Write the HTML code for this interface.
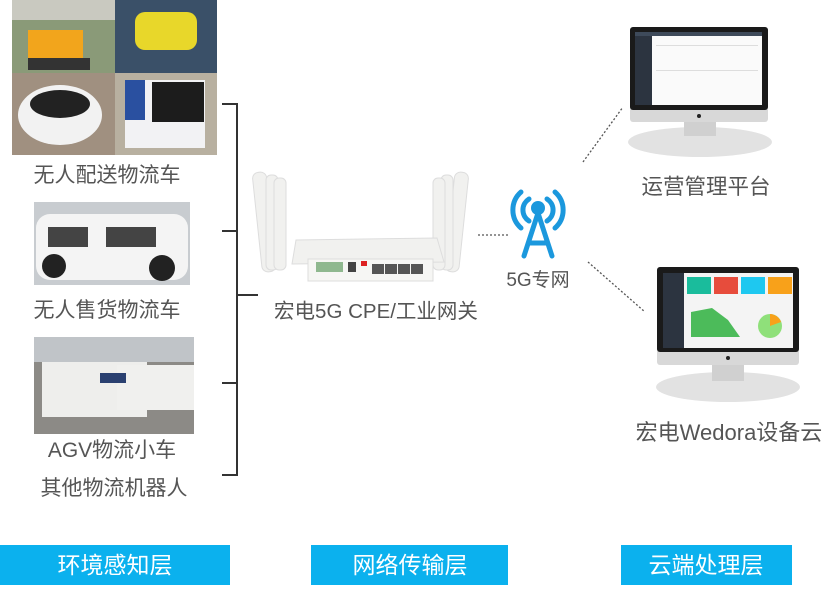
<!DOCTYPE html>
<html><head><meta charset="utf-8"><style>
body{margin:0;width:827px;height:585px;overflow:hidden;background:#fff;font-family:"Liberation Sans","Noto Sans CJK SC",sans-serif}
</style></head><body>
<svg width="827" height="585" viewBox="0 0 827 585" xmlns="http://www.w3.org/2000/svg" font-family="Liberation Sans, Noto Sans CJK SC, sans-serif">
<!-- photo grid -->
<rect x="12" y="0" width="103" height="73" fill="#8a9a78"/>
<rect x="12" y="0" width="103" height="20" fill="#c9c9c0"/>
<rect x="28" y="30" width="55" height="30" fill="#f2a51c"/>
<rect x="28" y="58" width="62" height="12" fill="#333"/>
<rect x="115" y="0" width="102" height="73" fill="#3a5068"/>
<rect x="135" y="12" width="62" height="38" rx="10" fill="#e8d72a"/>
<rect x="12" y="73" width="103" height="82" fill="#a09080"/>
<ellipse cx="60" cy="115" rx="42" ry="30" fill="#f2f2f2"/>
<ellipse cx="60" cy="104" rx="30" ry="14" fill="#222"/>
<rect x="115" y="73" width="102" height="82" fill="#b8b0a0"/>
<rect x="125" y="80" width="80" height="68" fill="#f2f2f4"/>
<rect x="152" y="82" width="52" height="40" fill="#1c1c1c"/>
<rect x="125" y="80" width="20" height="40" fill="#2a50a0"/>
<text x="107" y="182" font-size="21" fill="#555" text-anchor="middle">无人配送物流车</text>
<rect x="34" y="202" width="156" height="83" fill="#c8ccd0"/>
<rect x="36" y="214" width="152" height="66" rx="14" fill="#f4f4f4"/>
<rect x="48" y="227" width="40" height="20" fill="#444"/>
<rect x="106" y="227" width="50" height="20" fill="#444"/>
<circle cx="54" cy="266" r="12" fill="#222"/><circle cx="162" cy="268" r="13" fill="#222"/>
<text x="107" y="317" font-size="21" fill="#555" text-anchor="middle">无人售货物流车</text>
<rect x="34" y="337" width="160" height="97" fill="#8c8a86"/>
<rect x="34" y="337" width="160" height="25" fill="#c0c4c8"/>
<rect x="42" y="362" width="105" height="55" fill="#eeeeec"/>
<rect x="117" y="365" width="77" height="45" fill="#f0f0ee"/>
<rect x="100" y="373" width="26" height="10" fill="#2a4070"/>
<text x="112" y="457" font-size="21" fill="#555" text-anchor="middle">AGV物流小车</text>
<text x="114" y="495" font-size="21" fill="#555" text-anchor="middle">其他物流机器人</text>
<!-- bracket -->
<g stroke="#333" stroke-width="2" fill="none">
<path d="M222 104H237V475H222"/><path d="M222 231H237M222 383H237M237 295H258"/>
</g>
<!-- router -->
<g fill="#f1f1ef" stroke="#ddd" stroke-width="1">
<rect x="257" y="172" width="14" height="100" rx="6" transform="rotate(-6 264 220)"/>
<rect x="266" y="175" width="12" height="95" rx="5"/>
<rect x="274" y="178" width="12" height="92" rx="5"/>
<rect x="450" y="172" width="14" height="100" rx="6" transform="rotate(6 457 220)"/>
<rect x="441" y="175" width="12" height="95" rx="5"/>
<rect x="433" y="178" width="12" height="92" rx="5"/>
<path d="M296 240 L437 238 L444 262 L292 264 Z"/>
<rect x="308" y="259" width="125" height="22" fill="#f6f6f4"/>
</g>
<rect x="316" y="262" width="27" height="10" fill="#8fb88f"/>
<rect x="348" y="262" width="8" height="10" fill="#444"/>
<rect x="361" y="261" width="6" height="5" fill="#d22"/>
<g fill="#555"><rect x="372" y="264" width="12" height="10"/><rect x="385" y="264" width="12" height="10"/><rect x="398" y="264" width="12" height="10"/><rect x="411" y="264" width="12" height="10"/></g>
<text x="376" y="318" font-size="20.5" fill="#555" text-anchor="middle">宏电5G CPE/工业网关</text>
<!-- dotted lines -->
<g stroke="#555" stroke-width="1.3" stroke-dasharray="2 2" fill="none">
<path d="M478 235H510"/><path d="M583 162L623 107"/><path d="M588 262L645 312"/>
</g>
<!-- tower -->
<g stroke="#1b98dd" stroke-width="5" fill="none" stroke-linecap="round">
<path d="M529 199 A13 13 0 0 0 529 221"/><path d="M547 199 A13 13 0 0 1 547 221"/>
<path d="M521 192 A24 24 0 0 0 521 228"/><path d="M555 192 A24 24 0 0 1 555 228"/>
<path d="M538 213 L524 256 M538 213 L552 256 M529 243 H547"/>
</g>
<circle cx="538" cy="208" r="7" fill="#1b98dd"/>
<text x="538" y="286" font-size="19" fill="#555" text-anchor="middle">5G专网</text>
<!-- monitor 1 -->
<ellipse cx="700" cy="142" rx="72" ry="15" fill="#e2e2e2"/>
<rect x="684" y="120" width="32" height="16" fill="#d0d0d0"/>
<rect x="630" y="27" width="138" height="95" rx="3" fill="#d8d8d8"/>
<rect x="630" y="27" width="138" height="83" rx="3" fill="#1a1a1a"/>
<rect x="635" y="32" width="127" height="73" fill="#fafafa"/>
<rect x="635" y="32" width="17" height="73" fill="#2c3440"/>
<rect x="635" y="32" width="127" height="4" fill="#3e4a5a"/>
<g fill="#ddd"><rect x="656" y="45" width="102" height="1"/><rect x="656" y="70" width="102" height="1"/></g>
<circle cx="699" cy="116" r="2" fill="#222"/>
<text x="706" y="194" font-size="21.5" fill="#555" text-anchor="middle">运营管理平台</text>
<!-- monitor 2 -->
<ellipse cx="728" cy="387" rx="72" ry="15" fill="#e2e2e2"/>
<rect x="712" y="364" width="32" height="17" fill="#d0d0d0"/>
<rect x="657" y="267" width="142" height="98" rx="3" fill="#d8d8d8"/>
<rect x="657" y="267" width="142" height="85" rx="3" fill="#1a1a1a"/>
<rect x="663" y="273" width="130" height="75" fill="#f4f4f4"/>
<rect x="663" y="273" width="21" height="75" fill="#2c3440"/>
<rect x="687" y="277" width="24" height="17" fill="#1abc9c"/>
<rect x="714" y="277" width="24" height="17" fill="#e74c3c"/>
<rect x="741" y="277" width="24" height="17" fill="#1ec8f0"/>
<rect x="768" y="277" width="24" height="17" fill="#f8a11a"/>
<path d="M691 337 L691 312 L712 308 L728 320 L740 337 Z" fill="#4cbb5a"/>
<circle cx="770" cy="326" r="12" fill="#8fe07a"/>
<path d="M770 326 L770 314 A12 12 0 0 1 781 322 Z" fill="#f8a11a"/>
<circle cx="728" cy="358" r="2" fill="#222"/>
<text x="729" y="440" font-size="22" fill="#555" text-anchor="middle">宏电Wedora设备云</text>
<!-- bottom -->
<rect x="0" y="545" width="230" height="40" fill="#0bb1ee"/>
<rect x="311" y="545" width="197" height="40" fill="#0bb1ee"/>
<rect x="621" y="545" width="171" height="40" fill="#0bb1ee"/>
<g font-size="23" fill="#fff" text-anchor="middle">
<text x="115" y="573">环境感知层</text><text x="410" y="573">网络传输层</text><text x="706" y="573">云端处理层</text>
</g>
</svg>
</body></html>
